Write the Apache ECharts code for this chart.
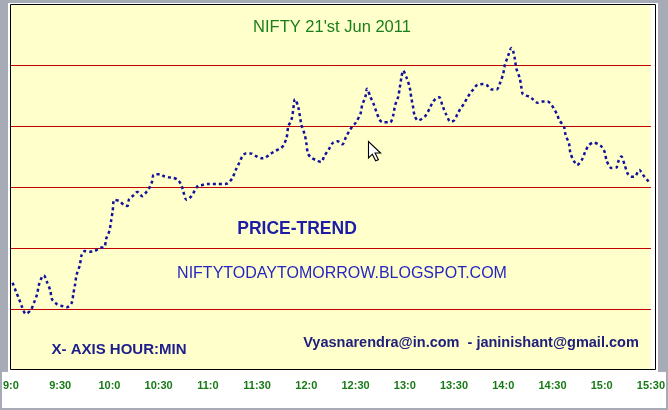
<!DOCTYPE html>
<html>
<head>
<meta charset="utf-8">
<script src="https://cdn.jsdelivr.net/npm/echarts@6/dist/echarts.min.js"></script>
<style>
html,body{margin:0;padding:0;background:#fff;}
#c{width:668px;height:410px;}
</style>
</head>
<body>
<div id="c"></div>
<script>
// minutes after 9:00
const minutes = [1,3,5,7,9,12,14,16,17,19,20,22,24,25,28,31,34,37,38,39,40,42,43,45,48,51,54,57,58,60,61,62,63,66,69,71,72,75,77,80,82,84,86,87,91,93,96,99,102,104,105,107,110,112,114,116,120,123,126,129,132,135,137,139,141,143,146,149,153,155,158,161,164,166,168,169,171,172,173,175,177,179,180,181,183,186,189,191,194,196,199,202,204,206,208,210,213,214,216,217,219,221,223,225,227,231,233,234,236,237,238,239,241,243,244,245,246,248,250,253,255,257,259,261,263,265,268,270,272,274,276,278,280,282,284,288,290,293,296,298,300,301,303,305,306,307,308,310,311,312,316,318,321,324,327,329,331,333,334,337,338,340,341,343,345,348,350,352,355,358,360,362,363,366,369,370,372,374,376,378,380,383,384,386,388,390];
const prices = [5254.3,5252.9,5251.6,5250.2,5249.2,5249.8,5251.0,5252.5,5253.9,5255.3,5255.5,5254.4,5253.0,5251.6,5250.8,5250.5,5250.3,5251.0,5252.5,5253.9,5255.6,5257.2,5258.8,5259.5,5259.4,5259.5,5260.0,5260.2,5261.5,5262.8,5264.4,5266.1,5267.9,5267.7,5267.0,5266.9,5268.0,5268.7,5269.2,5268.5,5269.0,5269.7,5270.9,5272.0,5272.1,5271.8,5271.6,5271.5,5271.1,5270.2,5269.3,5267.9,5268.5,5269.4,5270.2,5270.3,5270.5,5270.5,5270.5,5270.5,5270.6,5271.5,5272.8,5273.9,5275.0,5275.5,5275.5,5275.1,5274.7,5274.8,5275.4,5275.9,5276.3,5276.8,5278.1,5279.9,5281.1,5282.6,5284.4,5283.2,5280.2,5278.6,5277.2,5275.5,5274.8,5274.4,5274.1,5275.1,5276.3,5277.2,5277.5,5277.0,5278.1,5279.1,5279.9,5280.5,5282.0,5283.4,5284.8,5286.1,5284.8,5283.6,5282.1,5280.9,5280.6,5280.6,5281.8,5283.3,5284.8,5286.4,5288.0,5289.1,5288.0,5286.3,5284.6,5283.2,5281.7,5280.9,5281.1,5281.8,5282.8,5283.9,5284.5,5284.7,5283.3,5282.0,5280.7,5280.9,5281.9,5282.9,5283.6,5284.6,5285.4,5286.1,5286.7,5286.9,5286.7,5286.0,5286.0,5287.0,5288.6,5290.0,5291.5,5292.8,5292.3,5291.1,5289.4,5287.9,5286.4,5285.2,5284.8,5284.4,5283.8,5284.0,5284.0,5283.6,5282.8,5281.8,5281.0,5279.9,5278.5,5277.2,5275.5,5274.3,5273.6,5274.5,5275.8,5276.8,5277.3,5277.0,5276.6,5275.6,5274.3,5273.1,5273.2,5274.1,5275.0,5273.6,5272.1,5271.7,5271.7,5272.8,5272.5,5271.7,5271.1,5270.6];
const tickLabels = ['9:0','9:30','10:0','10:30','11:0','11:30','12:0','12:30','13:0','13:30','14:0','14:30','15:0','15:30'];
const titleText = "NIFTY 21'st Jun 2011";

const data = minutes.map((m, i) => [m, prices[i]]);
const chart = echarts.init(document.getElementById('c'), null, {renderer: 'canvas'});
const gray = '#a7abb6';
chart.setOption({
  animation: false,
  backgroundColor: '#ffffff',
  grid: {left: 10, right: 13, top: 4, bottom: 40, show: true, backgroundColor: '#ffffcc', borderWidth: 0},
  xAxis: {
    type: 'value', min: 0, max: 390, interval: 30,
    axisLine: {show: false}, axisTick: {show: false}, splitLine: {show: false},
    axisLabel: {
      margin: 10, color: '#167a16', fontWeight: 'bold', fontSize: 11, fontFamily: 'Liberation Sans, Arial, sans-serif',
      formatter: v => tickLabels[Math.round(v / 30)] || ''
    }
  },
  yAxis: {
    type: 'value', min: 5240, max: 5300, interval: 10,
    axisLine: {show: false}, axisTick: {show: false}, axisLabel: {show: false},
    splitLine: {show: true, showMinLine: false, showMaxLine: false, lineStyle: {color: '#c00000', width: 1}}
  },
  series: [{
    type: 'line', data: data, smooth: 0.3, symbol: 'none',
    lineStyle: {color: '#12129c', width: 2.5, type: [3, 3]},
    z: 3
  }],
  graphic: [
    {type: 'rect', z: 90, shape: {x: 10.5, y: 4.5, width: 645, height: 365}, style: {fill: null, stroke: '#000000', lineWidth: 1}},
    {type: 'rect', z: 100, shape: {x: 0, y: 0, width: 668, height: 3}, style: {fill: gray}},
    {type: 'rect', z: 100, shape: {x: 0, y: 0, width: 8, height: 372}, style: {fill: gray}},
    {type: 'rect', z: 100, shape: {x: 0, y: 0, width: 2, height: 410}, style: {fill: gray}},
    {type: 'rect', z: 100, shape: {x: 658, y: 0, width: 10, height: 372}, style: {fill: gray}},
    {type: 'rect', z: 100, shape: {x: 666, y: 0, width: 2, height: 410}, style: {fill: gray}},
    {type: 'rect', z: 100, shape: {x: 0, y: 408, width: 668, height: 2}, style: {fill: gray}},
    {type: 'text', z: 50, x: 332, y: 27, style: {text: titleText, fill: '#1a7f1a', font: '16.5px "Liberation Sans", Arial, sans-serif', textAlign: 'center', textVerticalAlign: 'middle'}},
    {type: 'text', z: 50, x: 297, y: 229, style: {text: 'PRICE-TREND', fill: '#1c1ca6', font: 'bold 17.5px "Liberation Sans", Arial, sans-serif', textAlign: 'center', textVerticalAlign: 'middle'}},
    {type: 'text', z: 50, x: 342, y: 274, style: {text: 'NIFTYTODAYTOMORROW.BLOGSPOT.COM', fill: '#2626c0', font: '16px "Liberation Sans", Arial, sans-serif', textAlign: 'center', textVerticalAlign: 'middle'}},
    {type: 'text', z: 50, x: 471, y: 343, style: {text: 'Vyasnarendra@in.com  - janinishant@gmail.com', fill: '#20207a', font: 'bold 14.5px "Liberation Sans", Arial, sans-serif', textAlign: 'center', textVerticalAlign: 'middle'}},
    {type: 'text', z: 50, x: 119, y: 350, style: {text: 'X- AXIS HOUR:MIN', fill: '#1e1e8c', font: 'bold 15px "Liberation Sans", Arial, sans-serif', textAlign: 'center', textVerticalAlign: 'middle'}},
    {type: 'polygon', z: 60, x: 368.5, y: 141.5, scaleX: 1.1, scaleY: 1.1, shape: {points: [[0,0],[0,15],[3.5,11.5],[6.5,17.5],[9,16.5],[6,10.5],[11,10.5]]}, style: {fill: '#ffffff', stroke: '#000000', lineWidth: 1}}
  ]
});
</script>
</body>
</html>
